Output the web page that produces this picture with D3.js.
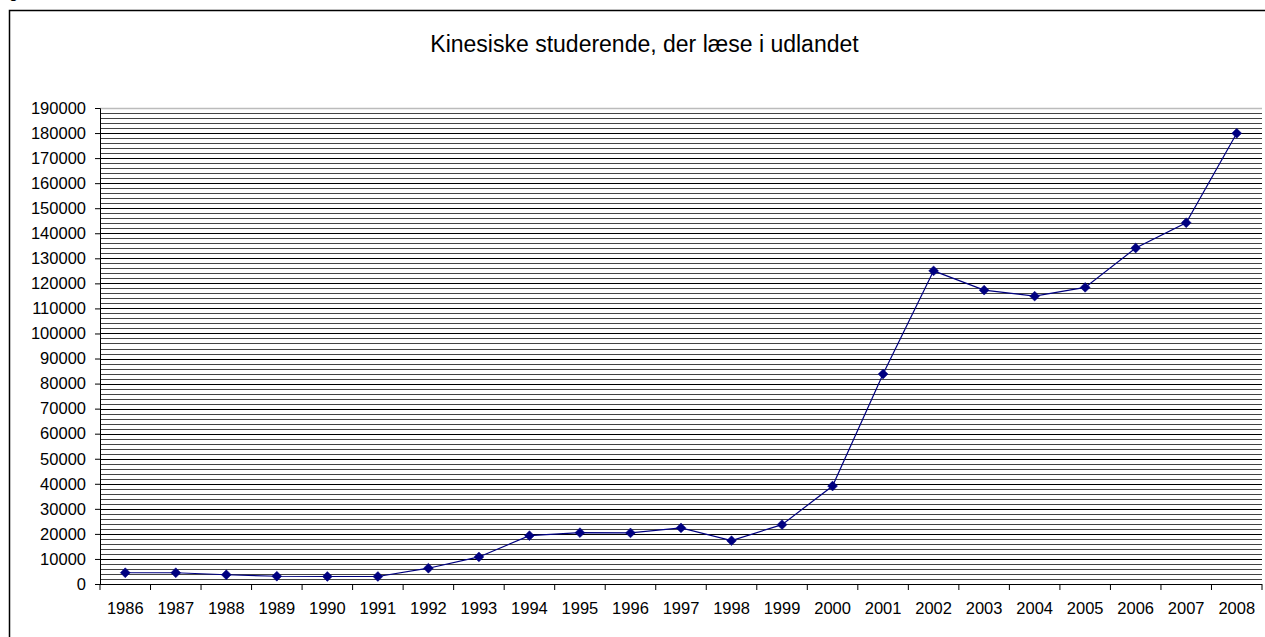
<!DOCTYPE html>
<html>
<head>
<meta charset="utf-8">
<script src="https://cdn.jsdelivr.net/npm/d3@7"></script>
<style>
  html, body { margin: 0; padding: 0; background: #fff; overflow: hidden; }
  svg { display: block; }
  text { font-family: "Liberation Sans", Arial, sans-serif; fill: #000; }
</style>
</head>
<body>
<svg id="chart" width="1265" height="637"></svg>
<script>
const title = "Kinesiske studerende, der læse i udlandet";
const years = ["1986","1987","1988","1989","1990","1991","1992","1993","1994","1995","1996","1997",
               "1998","1999","2000","2001","2002","2003","2004","2005","2006","2007","2008"];
const students = [4500, 4500, 3700, 3100, 3000, 3000, 6300, 10800, 19300, 20500, 20400, 22400,
                  17300, 23700, 39100, 83800, 125000, 117300, 114900, 118400, 134100, 144200, 179900];
const yTicks = d3.range(0, 190001, 10000);
const yMinor = d3.range(0, 190001, 2000);

const svg = d3.select("#chart");
const plotL = 100, plotR = 1262, plotT = 108, plotB = 584;

const x = d3.scaleBand().domain(years).range([plotL, plotR]).padding(0);
const y = d3.scaleLinear().domain([0, 190000]).range([plotB, plotT]);

// outer chart frame (extends beyond viewport right/bottom)
svg.append("rect").attr("x", 9.5).attr("y", 10.5).attr("width", 1300).attr("height", 700)
  .attr("fill", "#fff").attr("stroke", "#000").attr("stroke-width", 1.5);

// cut-off glyph above the frame (as in the reference)
svg.append("text").attr("x", 9).attr("y", -2).attr("font-family", "Liberation Serif")
  .attr("font-size", 16).text("g");

// title
svg.append("text").attr("x", 644.5).attr("y", 52).attr("text-anchor", "middle")
  .attr("font-size", 23).text(title);

// gridlines
const grid = svg.append("g");
grid.selectAll("line.minor").data(yMinor.filter(v => v % 10000 !== 0)).join("line")
  .attr("class", "minor")
  .attr("x1", plotL).attr("x2", plotR)
  .attr("y1", d => Math.round(y(d)) + 0.5).attr("y2", d => Math.round(y(d)) + 0.5)
  .attr("stroke", "#444").attr("stroke-width", 1);
grid.selectAll("line.major").data(yTicks.filter(v => v > 0 && v < 190000)).join("line")
  .attr("class", "major")
  .attr("x1", plotL).attr("x2", plotR)
  .attr("y1", d => Math.round(y(d)) + 0.5).attr("y2", d => Math.round(y(d)) + 0.5)
  .attr("stroke", "#000").attr("stroke-width", 1);
grid.append("line").attr("x1", plotL).attr("x2", plotR)
  .attr("y1", Math.round(y(190000)) + 0.5).attr("y2", Math.round(y(190000)) + 0.5)
  .attr("stroke", "#bbb").attr("stroke-width", 1.5);

// y axis
const yAxis = d3.axisLeft(y).tickValues(yTicks).tickFormat(d3.format("d")).tickSize(5).tickPadding(9);
const gy = svg.append("g").attr("transform", `translate(${plotL},0)`).call(yAxis);
gy.select(".domain").attr("stroke", "#000");
gy.selectAll(".tick line").attr("stroke", "#000");
gy.selectAll(".tick text").attr("font-size", 16.5).attr("font-family", "Liberation Sans, Arial, sans-serif").attr("fill", "#000");

// x axis with ticks at category boundaries
const gx = svg.append("g").attr("transform", `translate(0,${plotB})`);
gx.append("line").attr("x1", plotL).attr("x2", plotR).attr("y1", 0.5).attr("y2", 0.5).attr("stroke", "#000");
const boundaries = years.map(d => x(d)).concat([x(years[years.length - 1]) + x.bandwidth()]);
gx.selectAll("line.tk").data(boundaries).join("line").attr("class", "tk")
  .attr("x1", d => d).attr("x2", d => d).attr("y1", 0).attr("y2", 6).attr("stroke", "#000");
gx.selectAll("text").data(years).join("text")
  .attr("x", d => x(d) + x.bandwidth() / 2).attr("y", 29.5)
  .attr("text-anchor", "middle").attr("font-size", 16.5).text(d => d);

// line
const cx = d => x(d) + x.bandwidth() / 2;
svg.append("path").datum(years.map((d, i) => [cx(d), y(students[i])]))
  .attr("fill", "none").attr("stroke", "#000080").attr("stroke-width", 1.2)
  .attr("d", d3.line());

// diamond markers
const diamond = d3.symbol().type(d3.symbolDiamond2).size(62);
svg.append("g").selectAll("path").data(years).join("path")
  .attr("transform", (d, i) => `translate(${cx(d)},${y(students[i])})`)
  .attr("d", diamond).attr("fill", "#000080").attr("stroke", "#000080").attr("stroke-width", 0.5);
</script>
</body>
</html>
